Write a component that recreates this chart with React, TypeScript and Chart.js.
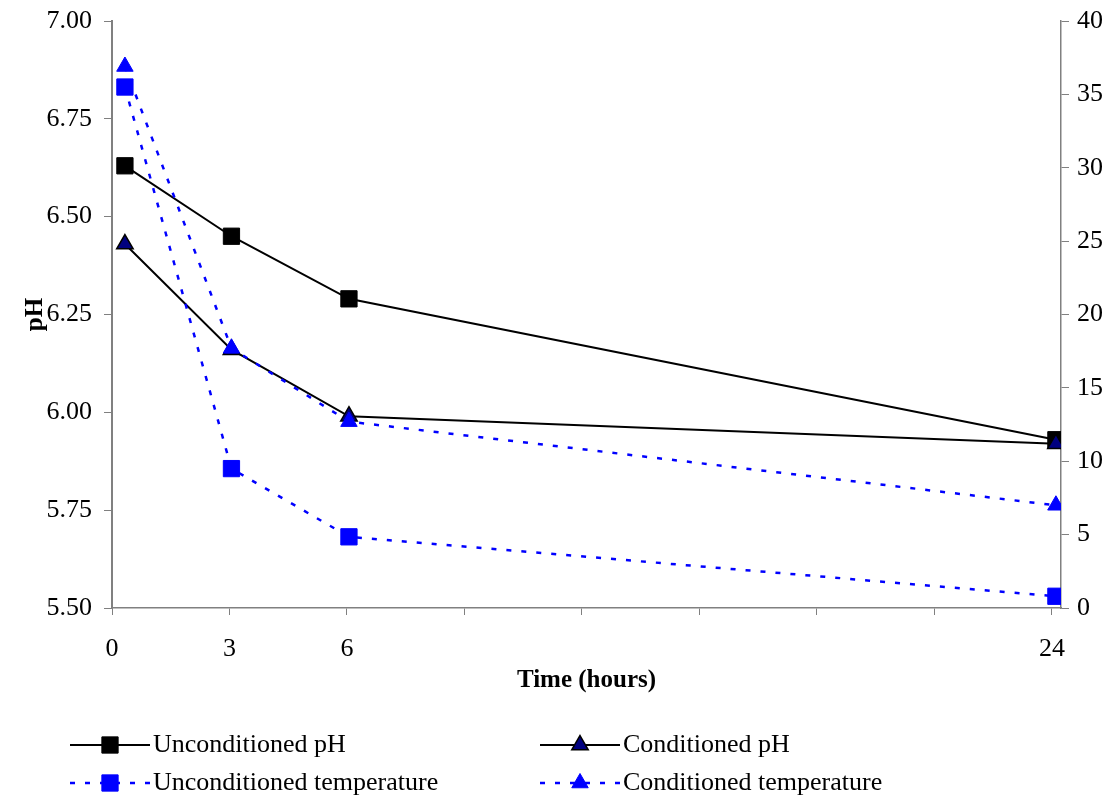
import React, { useEffect, useRef } from "react";
import { Chart, registerables } from "chart.js";
import { drawPoint } from "chart.js/helpers";

Chart.register(...registerables);

const hours = [0.33, 3.05, 6.05, 24.1];
const unconditionedPH = [6.63, 6.45, 6.29, 5.93];
const conditionedPH = [6.43, 6.16, 5.99, 5.92];
const unconditionedTemp = [35.5, 9.5, 4.85, 0.8];
const conditionedTemp = [36.9, 17.7, 12.7, 7.0];
const xTickValues = [0, 3, 6, 9, 12, 15, 18, 21, 24];
const xLabelledTicks = [0, 3, 6, 24];
const seriesNames = [
  "Unconditioned pH",
  "Conditioned pH",
  "Unconditioned temperature",
  "Conditioned temperature",
];

const FONT = "'Liberation Serif', 'Times New Roman', serif";

const toPoints = (ys: number[]) => hours.map((x, i) => ({ x, y: ys[i] }));

const legendPlugin = {
  id: "lineLegend",
  afterDraw(chart: any) {
    const ctx = chart.ctx;
    const pos = [
      [70, 745],
      [540, 745],
      [70, 783],
      [540, 783],
    ];
    chart.data.datasets.forEach((ds: any, i: number) => {
      const [x, y] = pos[i];
      ctx.save();
      ctx.strokeStyle = ds.borderColor;
      ctx.lineWidth = ds.borderWidth;
      ctx.setLineDash(ds.borderDash || []);
      ctx.beginPath();
      ctx.moveTo(x, y);
      ctx.lineTo(x + 80, y);
      ctx.stroke();
      ctx.setLineDash([]);
      ctx.fillStyle = ds.pointBackgroundColor;
      ctx.strokeStyle = ds.pointBorderColor;
      ctx.lineWidth = ds.pointBorderWidth;
      drawPoint(
        ctx,
        { pointStyle: ds.pointStyle, radius: ds.pointRadius, rotation: 0, borderWidth: ds.pointBorderWidth },
        x + 40,
        y
      );
      ctx.fillStyle = "#000";
      ctx.font = `26px ${FONT}`;
      ctx.textBaseline = "middle";
      ctx.textAlign = "left";
      ctx.fillText(ds.label, x + 83, y);
      ctx.restore();
    });
  },
};

export default function App() {
  const ref = useRef<HTMLCanvasElement>(null);
  useEffect(() => {
    if (!ref.current) return;
    Chart.defaults.font.family = FONT;
    Chart.defaults.color = "#000";
    const chart = new Chart(ref.current, {
      type: "line",
      data: {
        datasets: [
          {
            label: seriesNames[0],
            data: toPoints(unconditionedPH),
            yAxisID: "y",
            borderColor: "#000",
            borderWidth: 2,
            pointStyle: "rect",
            pointRadius: 11.5,
            pointBackgroundColor: "#000",
            pointBorderColor: "#000",
            pointBorderWidth: 1,
            order: 4,
          },
          {
            label: seriesNames[1],
            data: toPoints(conditionedPH),
            yAxisID: "y",
            borderColor: "#000",
            borderWidth: 2,
            pointStyle: "triangle",
            pointRadius: 9.5,
            pointBackgroundColor: "#000080",
            pointBorderColor: "#000",
            pointBorderWidth: 1.5,
            order: 3,
          },
          {
            label: seriesNames[2],
            data: toPoints(unconditionedTemp),
            yAxisID: "y1",
            borderColor: "#0000ff",
            borderWidth: 2.5,
            borderDash: [5, 10],
            pointStyle: "rect",
            pointRadius: 11.5,
            pointBackgroundColor: "#0000ff",
            pointBorderColor: "#0000ff",
            pointBorderWidth: 1,
            order: 2,
          },
          {
            label: seriesNames[3],
            data: toPoints(conditionedTemp),
            yAxisID: "y1",
            borderColor: "#0000ff",
            borderWidth: 2.5,
            borderDash: [5, 10],
            pointStyle: "triangle",
            pointRadius: 9.5,
            pointBackgroundColor: "#0000ff",
            pointBorderColor: "#0000ff",
            pointBorderWidth: 1,
            order: 1,
          },
        ],
      },
      options: {
        animation: false,
        responsive: true,
        maintainAspectRatio: false,
        layout: { padding: { top: 21, left: 0, right: 0, bottom: 98 } },
        plugins: { legend: { display: false }, tooltip: { enabled: false } },
        scales: {
          x: {
            type: "linear",
            min: 0,
            max: 24.23,
            afterBuildTicks: (scale: any) => {
              scale.ticks = xTickValues.map((v) => ({ value: v }));
            },
            afterFit: (scale: any) => {
              scale.height = 92;
              scale.paddingLeft = 0;
              scale.paddingRight = 0;
            },
            ticks: {
              font: { size: 26 },
              padding: 19,
              maxRotation: 0,
              autoSkip: false,
              callback: (v: any) => (xLabelledTicks.includes(Number(v)) ? String(v) : ""),
            },
            grid: {
              drawOnChartArea: false,
              drawTicks: true,
              tickLength: 7,
              color: "#808080",
            },
            border: { display: true, color: "#808080", width: 1.5 },
            title: {
              display: true,
              text: "Time (hours)",
              font: { size: 25, weight: "bold" },
              padding: { top: 0, bottom: 4 },
            },
          },
          y: {
            type: "linear",
            position: "left",
            min: 5.5,
            max: 7,
            afterFit: (scale: any) => {
              scale.width = 112;
              scale.paddingTop = 0;
              scale.paddingBottom = 0;
            },
            ticks: {
              stepSize: 0.25,
              font: { size: 26 },
              padding: 12,
              callback: (v: any) => Number(v).toFixed(2),
            },
            grid: {
              drawOnChartArea: false,
              drawTicks: true,
              tickLength: 8,
              color: "#808080",
            },
            border: { display: true, color: "#808080", width: 2 },
            title: {
              display: true,
              text: "pH",
              font: { size: 25, weight: "bold" },
              padding: { top: 21, bottom: 0 },
            },
          },
          y1: {
            type: "linear",
            position: "right",
            min: 0,
            max: 40,
            afterFit: (scale: any) => {
              scale.width = 48;
              scale.paddingTop = 0;
              scale.paddingBottom = 0;
            },
            ticks: {
              stepSize: 5,
              font: { size: 26 },
              padding: 8,
            },
            grid: {
              drawOnChartArea: false,
              drawTicks: true,
              tickLength: 8,
              color: "#808080",
            },
            border: { display: true, color: "#808080", width: 1.5 },
          },
        },
      },
      plugins: [legendPlugin],
    });
    return () => chart.destroy();
  }, []);

  return (
    <div style={{ position: "absolute", left: 0, top: 0, width: 1109, height: 798, background: "#fff" }}>
      <canvas ref={ref} />
    </div>
  );
}
